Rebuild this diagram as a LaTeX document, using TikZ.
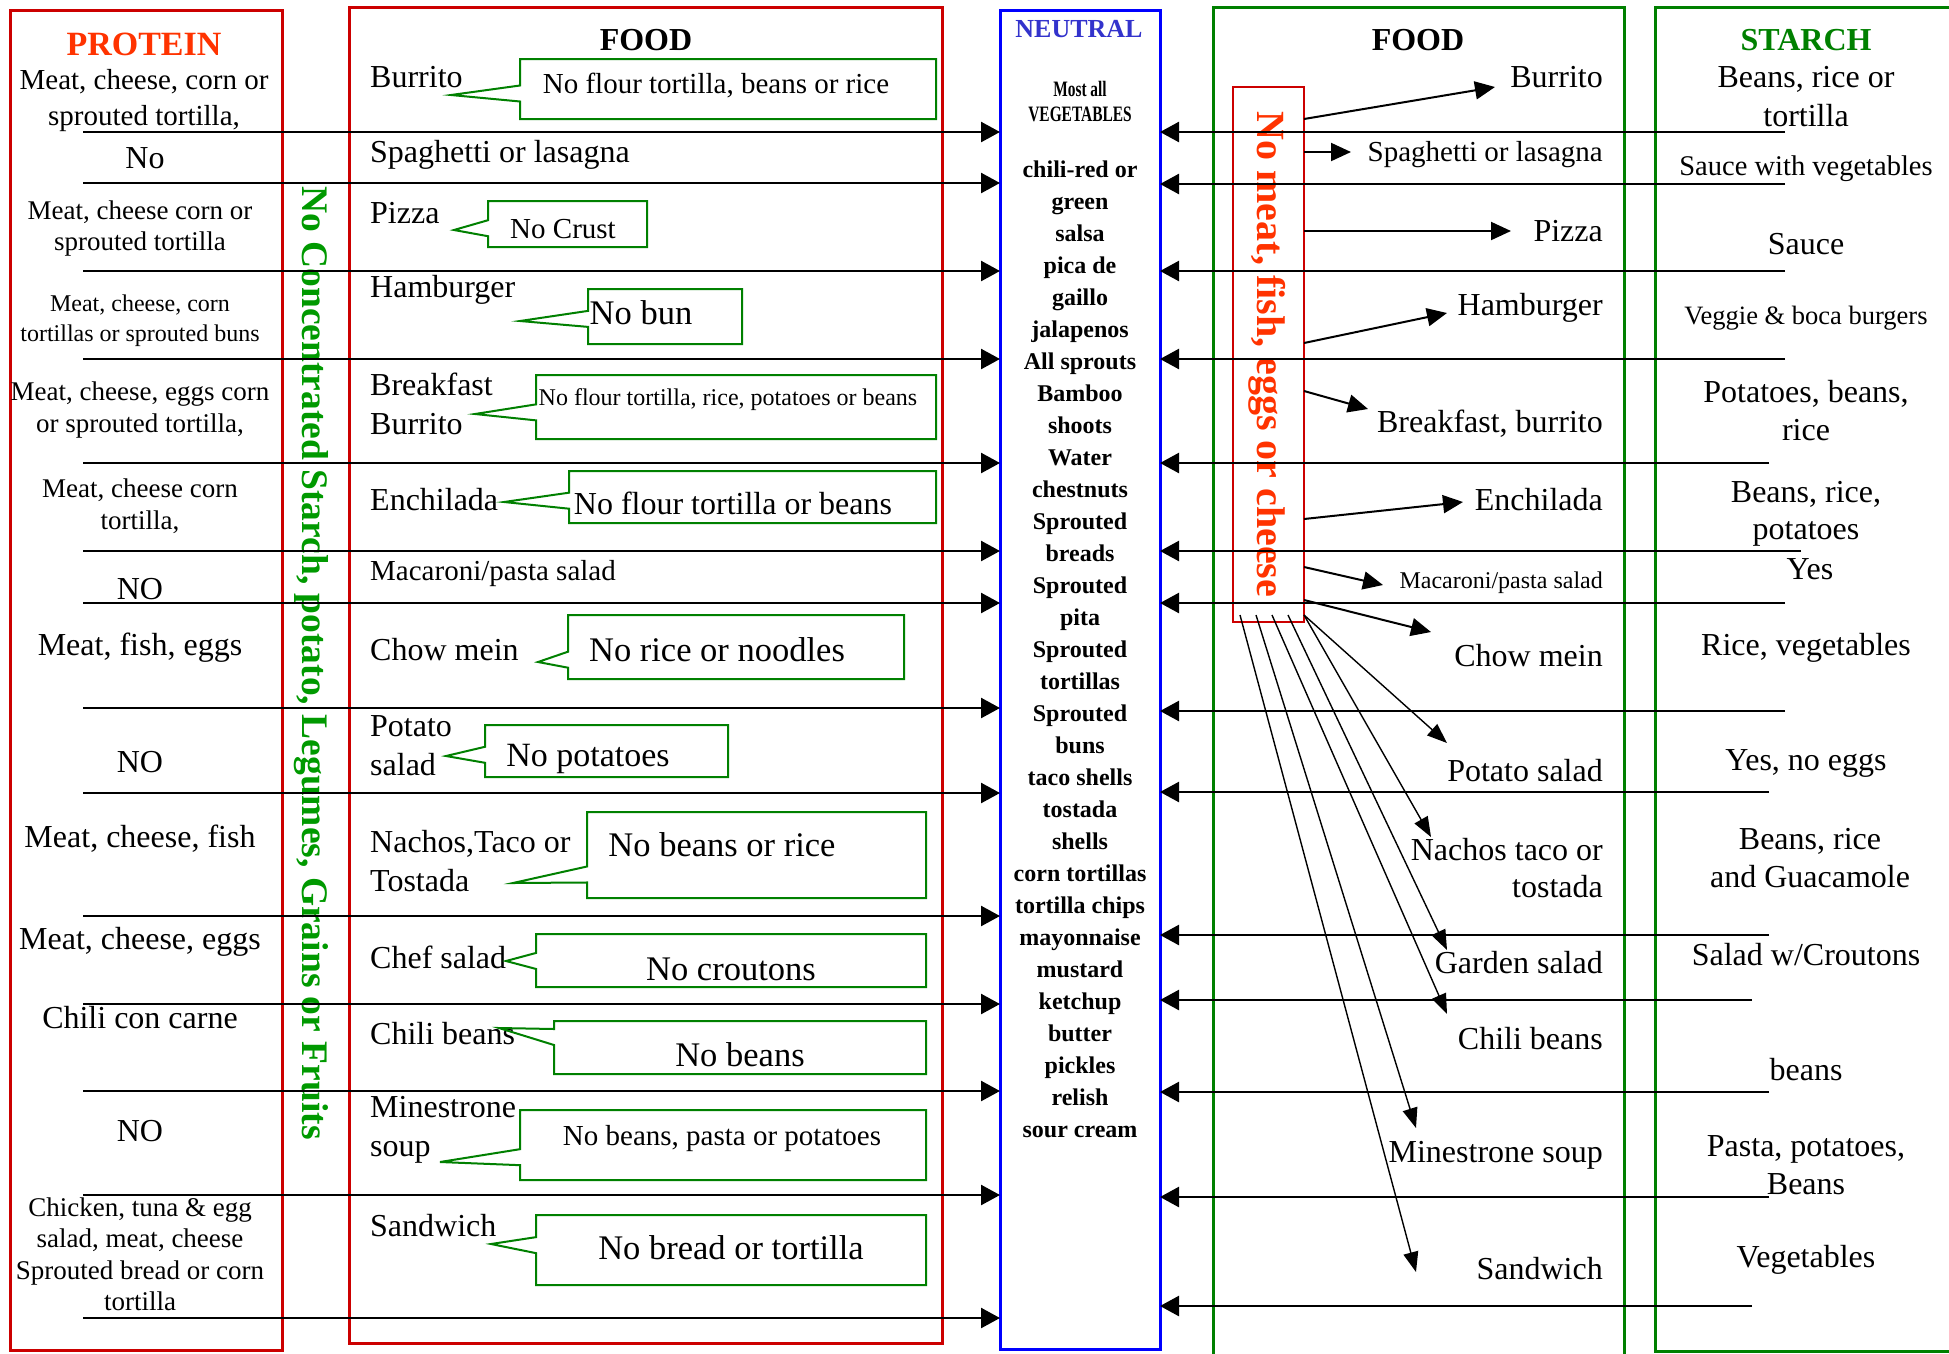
\documentclass[tikz,border=0pt]{standalone}
\usepackage{fontspec}
\setmainfont{Liberation Serif}
\usetikzlibrary{shapes.callouts,arrows.meta}

\definecolor{boxred}{HTML}{CC0000}
\definecolor{hotred}{HTML}{FF3300}
\definecolor{boxgreen}{HTML}{008000}
\definecolor{txtgreen}{HTML}{009900}
\definecolor{boxblue}{HTML}{0000FF}
\definecolor{nblue}{HTML}{3333CC}
\newcommand{\fsz}[2]{\fontsize{#1}{#2}\selectfont}

\begin{document}
\begin{tikzpicture}[x=1pt, y=-1pt,
  txt/.style={inner sep=0pt, font=\fsz{32}{39}},
  lf/.style={txt, anchor=west, align=left},
  rf/.style={txt, anchor=east, align=right},
  mid/.style={txt, align=center},
  head/.style={inner sep=0pt, font=\bfseries\fsz{32}{39}},
  nv/.style={inner sep=0pt, anchor=base, font=\bfseries\fsz{24}{32}},
  redbox/.style={draw=boxred, line width=3pt, inner sep=0pt, outer sep=0pt},
  bluebox/.style={draw=boxblue, line width=3pt, inner sep=0pt, outer sep=0pt},
  greenbox/.style={draw=boxgreen, line width=3pt, inner sep=0pt, outer sep=0pt},
  callbox/.style={rectangle callout, draw=boxgreen, line width=2pt, inner sep=0pt, outer sep=0pt, callout pointer width=16pt},
  arr/.style={line width=2.5pt, -{Triangle[length=19pt,width=20pt]}},
  midarr/.style={line width=2pt, -{Triangle[length=20pt,width=18pt]}},
  thinarr/.style={line width=1.4pt, -{Triangle[length=20pt,width=15pt]}}]
\useasboundingbox (0,0) rectangle (1949,1353);

% columns
\node[redbox, minimum width=272pt, minimum height=1340pt] (protein) at (146,680) {};
\node[redbox, minimum width=593pt, minimum height=1336pt] (lfood) at (646,675) {};
\node[bluebox, minimum width=160pt, minimum height=1339pt] (neutral) at (1080,679.5) {};
\node[greenbox, minimum width=411pt, minimum height=1363pt] (rfood) at (1418.5,688.5) {};
\node[greenbox, minimum width=310pt, minimum height=1344pt] (starch) at (1810,679) {};
\node[draw=boxred, line width=1.5pt, inner sep=0pt, outer sep=0pt, minimum width=71pt, minimum height=535pt] (nomeat) at (1268.5,354.5) {};

% headings
\node[head, text=hotred, font=\bfseries\fsz{34}{39}] (hprotein) at (144,44) {PROTEIN};
\node[head] (hlfood) at (646,40) {FOOD};
\node[head, text=nblue, font=\bfseries\fsz{26}{30}] (hneutral) at (1079,29) {NEUTRAL};
\node[head] (hrfood) at (1418,40) {FOOD};
\node[head, text=boxgreen] (hstarch) at (1806,40) {STARCH};
\node[rotate=-90, inner sep=0pt, text=txtgreen, font=\bfseries\fsz{37.5}{40}] (nostarch) at (311,663) {No Concentrated Starch, potato, Legumes, Grains or Fruits};
\node[rotate=-90, inner sep=0pt, text=hotred, font=\bfseries\fsz{40}{44}] (nomeattxt) at (1267,354.5) {No meat, fish, eggs or cheese};

% protein
\node[mid, font=\fsz{29}{36}] (p1) at (144,101) {Meat, cheese, corn or\\sprouted tortilla,};
\node[mid] (p2) at (145,158) {No};
\node[mid, font=\fsz{27}{31}] (p3) at (140,228) {Meat, cheese corn or\\sprouted tortilla};
\node[mid, font=\fsz{24}{30}] (p4) at (140,321) {Meat, cheese, corn\\tortillas or sprouted buns};
\node[mid, font=\fsz{27}{32}] (p5) at (140,410) {Meat, cheese, eggs corn\\or sprouted tortilla,};
\node[mid, font=\fsz{27}{32}] (p6) at (140,506) {Meat, cheese corn\\tortilla,};
\node[mid] (p7) at (140,589) {NO};
\node[mid] (p8) at (140,648) {Meat, fish, eggs};
\node[mid] (p9) at (140,762) {NO};
\node[mid] (p10) at (140,839) {Meat, cheese, fish};
\node[mid] (p11) at (140,942) {Meat, cheese, eggs};
\node[mid] (p12) at (140,1018) {Chili con carne};
\node[mid] (p13) at (140,1131) {NO};
\node[mid, font=\fsz{27}{31.5}] (p14) at (140,1254) {Chicken, tuna \& egg\\salad, meat, cheese\\Sprouted bread or corn\\tortilla};

% food, left
\node[lf] (lf1) at (370,77) {Burrito};
\node[lf] (lf2) at (370,155) {Spaghetti or lasagna};
\node[lf] (lf3) at (370,213) {Pizza};
\node[lf] (lf4) at (370,290) {Hamburger};
\node[lf] (lf5) at (370,404) {Breakfast\\Burrito};
\node[lf] (lf6) at (370,500) {Enchilada};
\node[lf, font=\fsz{29}{35}] (lf7) at (370,574) {Macaroni/pasta salad};
\node[lf] (lf8) at (370,650) {Chow mein};
\node[lf] (lf9) at (370,746) {Potato\\salad};
\node[lf] (lf10) at (370,861) {Nachos,Taco or\\Tostada};
\node[lf] (lf11) at (370,957) {Chef salad};
\node[lf] (lf12) at (370,1034) {Chili beans};
\node[lf] (lf13) at (370,1130) {Minestrone\\soup};
\node[lf] (lf14) at (370,1226) {Sandwich};

% callouts
\node[callbox, minimum width=416pt, minimum height=60pt, callout absolute pointer={(451,95)}] (c1) at (728,89) {};
\node[callbox, minimum width=159pt, minimum height=46pt, callout absolute pointer={(454,230)}] (c2) at (567.5,224) {};
\node[callbox, minimum width=154pt, minimum height=55pt, callout absolute pointer={(520,321)}] (c3) at (665,316.5) {};
\node[callbox, minimum width=400pt, minimum height=64pt, callout absolute pointer={(475,414)}] (c4) at (736,407) {};
\node[callbox, minimum width=367pt, minimum height=52pt, callout absolute pointer={(504,502)}] (c5) at (752.5,497) {};
\node[callbox, minimum width=336pt, minimum height=64pt, callout absolute pointer={(538,662)}] (c6) at (736,647) {};
\node[callbox, minimum width=243pt, minimum height=52pt, callout absolute pointer={(446,756)}] (c7) at (606.5,751) {};
\node[callbox, minimum width=339pt, minimum height=86pt, callout absolute pointer={(513,883)}] (c8) at (756.5,855) {};
\node[callbox, minimum width=390pt, minimum height=53pt, callout absolute pointer={(506,961)}] (c9) at (731,960.5) {};
\node[callbox, minimum width=372pt, minimum height=53pt, callout absolute pointer={(499,1028)}] (c10) at (740,1047.5) {};
\node[callbox, minimum width=406pt, minimum height=70pt, callout absolute pointer={(440,1162)}] (c11) at (723,1145) {};
\node[callbox, minimum width=390pt, minimum height=70pt, callout absolute pointer={(491,1244)}] (c12) at (731,1250) {};

\node[txt, font=\fsz{29}{35}] (n1) at (716,86) {No flour tortilla, beans or rice};
\node[txt, font=\fsz{29}{35}] (n2) at (563,229) {No Crust};
\node[txt, font=\fsz{34.5}{40}] (n3) at (641,313) {No bun};
\node[txt, font=\fsz{24}{30}] (n4) at (728,400) {No flour tortilla, rice, potatoes or beans};
\node[txt] (n5) at (733,503) {No flour tortilla or beans};
\node[txt, font=\fsz{34.5}{40}] (n6) at (717,650) {No rice or noodles};
\node[txt, font=\fsz{34}{40}] (n7) at (588,759) {No potatoes};
\node[txt, font=\fsz{34.5}{40}] (n8) at (722,845) {No beans or rice};
\node[txt, font=\fsz{34.5}{40}] (n9) at (731,969) {No croutons};
\node[txt, font=\fsz{34.5}{40}] (n10) at (740,1055) {No beans};
\node[txt, font=\fsz{29}{35}] (n11) at (722,1139) {No beans, pasta or potatoes};
\node[txt, font=\fsz{34.5}{40}] (n12) at (731,1248) {No bread or tortilla};

% neutral
\node[inner sep=0pt, align=center, font=\bfseries\fsz{22}{25}] (mostall) at (1080,101.5) {\scalebox{0.7}[1]{Most all}\\\scalebox{0.7}[1]{VEGETABLES}};
\foreach \w [count=\i from 0] in {chili-red or, green, salsa, pica de, gaillo, jalapenos, All sprouts, Bamboo, shoots, Water, chestnuts, Sprouted, breads, Sprouted, pita, Sprouted, tortillas, Sprouted, buns, taco shells, tostada, shells, corn tortillas, tortilla chips, mayonnaise, mustard, ketchup, butter, pickles, relish, sour cream}
  \node[nv] (nv\i) at (1080,177+32*\i) {\w};

% food, right
\node[rf] (rf1) at (1603,77) {Burrito};
\node[rf, font=\fsz{29}{35}] (rf2) at (1603,155) {Spaghetti or lasagna};
\node[rf] (rf3) at (1603,231) {Pizza};
\node[rf] (rf4) at (1603,308) {Hamburger};
\node[rf] (rf5) at (1603,424) {Breakfast, burrito};
\node[rf] (rf6) at (1603,500) {Enchilada};
\node[rf, font=\fsz{24}{30}] (rf7) at (1603,583) {Macaroni/pasta salad};
\node[rf] (rf8) at (1603,656) {Chow mein};
\node[rf] (rf9) at (1603,771) {Potato salad};
\node[rf, font=\fsz{32}{37}] (rf10) at (1603,868) {Nachos taco or\\tostada};
\node[rf] (rf11) at (1603,963) {Garden salad};
\node[rf] (rf12) at (1603,1039) {Chili beans};
\node[rf] (rf13) at (1603,1155) {Minestrone soup};
\node[rf] (rf14) at (1603,1269) {Sandwich};

% starch
\node[mid] (s1) at (1806,96.5) {Beans, rice or\\tortilla};
\node[mid, font=\fsz{28.5}{34}] (s2) at (1806,169) {Sauce with vegetables};
\node[mid] (s3) at (1806,244) {Sauce};
\node[mid, font=\fsz{26.5}{32}] (s4) at (1806,318) {Veggie \& boca burgers};
\node[mid, font=\fsz{32}{38}] (s5) at (1806,411) {Potatoes, beans,\\rice};
\node[mid, font=\fsz{32}{37}] (s6) at (1806,513.5) {Beans, rice,\\potatoes};
\node[mid] (s7) at (1810,569) {Yes};
\node[mid] (s8) at (1806,648) {Rice, vegetables};
\node[mid] (s9) at (1806,763) {Yes, no eggs};
\node[mid, font=\fsz{32}{38}] (s10) at (1810,858) {Beans, rice\\and Guacamole};
\node[mid] (s11) at (1806,955) {Salad w/Croutons};
\node[mid] (s12) at (1806,1070) {beans};
\node[mid, font=\fsz{32}{38}] (s13) at (1806,1165) {Pasta, potatoes,\\Beans};
\node[mid] (s14) at (1806,1260) {Vegetables};

% arrows into neutral
\foreach \y [count=\i] in {132,183,271,359,463,551,603,708,793,916,1004,1091,1195,1318}
  {\coordinate (la\i) at (83,\y);
   \draw[arr] (la\i) -- (la\i -| neutral.west);}
\foreach \y/\x [count=\i] in {132/1785,184/1785,271/1785,359/1785,463/1769,551/1801,603/1785,711/1785,792/1769,935/1769,1000/1752,1092/1769,1197/1769,1306/1752}
  {\coordinate (ra\i) at (\x,\y);
   \draw[arr] (ra\i) -- (ra\i -| neutral.east);}

% arrows out of the no meat box
\foreach \sy/\tx/\ty [count=\i] in {119/1495/87,152/1351/152,231/1511/231,343/1447/313,391/1368/409,519/1463/502,567/1383/585,600/1431/632}
  {\coordinate (tip\i) at (\tx,\ty);
   \draw[midarr] (nomeat.east |- 0,\sy) -- (tip\i);}
\coordinate (nmbot) at ([yshift=7pt]nomeat.south);
\foreach \sx/\tx/\ty [count=\i] in {1304/1447/743,1304/1431/837,1288/1447/950,1272/1447/1014,1256/1416/1128,1240/1416/1272}
  {\coordinate (btip\i) at (\tx,\ty);
   \draw[thinarr] (nmbot -| \sx,0) -- (btip\i);}
\end{tikzpicture}
\end{document}
